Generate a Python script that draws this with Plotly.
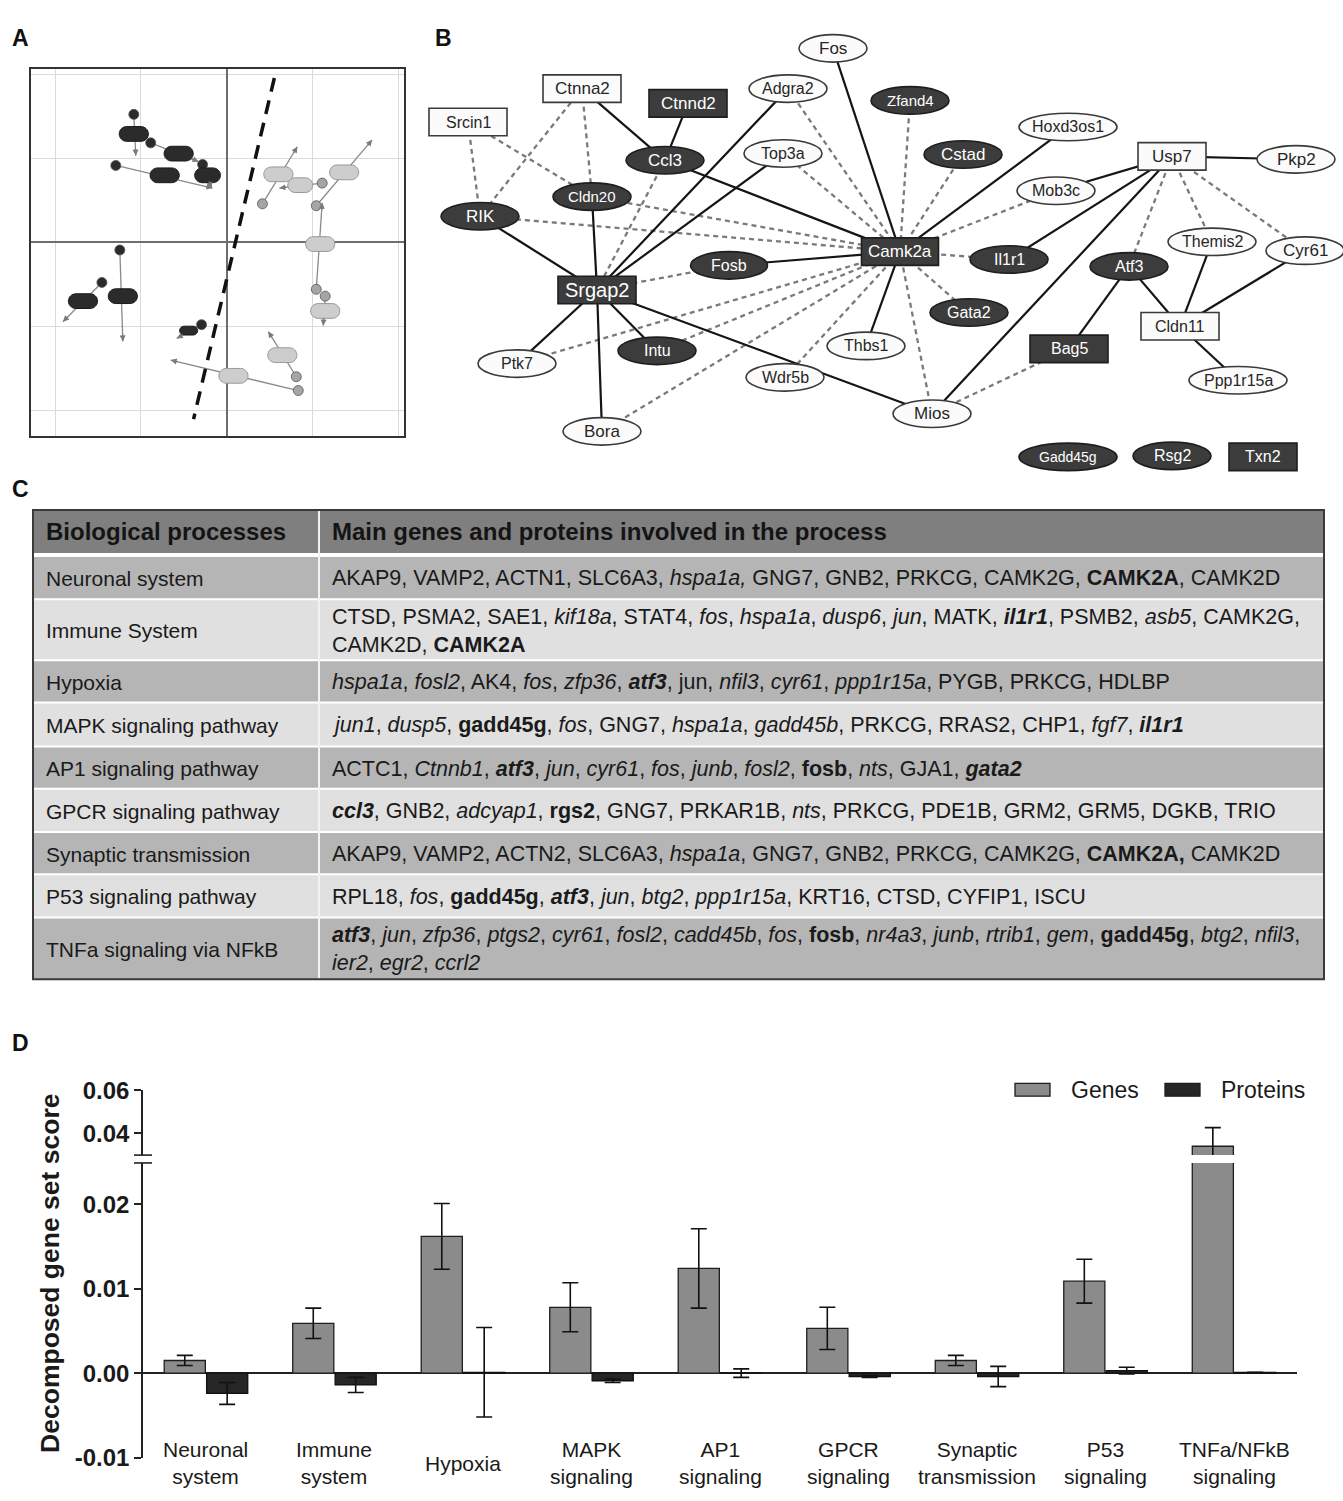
import plotly.graph_objects as go

W, H = 1343, 1501
FONT = "Liberation Sans, Arial, sans-serif"

# ================= Panel D data =================
groups = ["Neuronal", "Immune", "Hypoxia", "MAPK", "AP1", "GPCR", "Synaptic", "P53", "TNFa"]
group_labels = ["Neuronal<br>system", "Immune<br>system", "Hypoxia", "MAPK<br>signaling", "AP1<br>signaling",
                "GPCR<br>signaling", "Synaptic<br>transmission", "P53<br>signaling", "TNFa/NFkB<br>signaling"]
genes = [0.0015, 0.0059, 0.0162, 0.0078, 0.0124, 0.0053, 0.0015, 0.0109, 0.0341]
genes_err = [0.0006, 0.0018, 0.0039, 0.0029, 0.0047, 0.0025, 0.0006, 0.0026, 0.0086]
proteins = [-0.0024, -0.0014, 0.0001, -0.0009, 0.0000, -0.0004, -0.0004, 0.0003, 0.0001]
proteins_err = [0.0013, 0.0009, 0.0053, 0.0002, 0.0005, 0.0001, 0.0012, 0.0004, 0.0000]
lower_ticks = [-0.01, 0.0, 0.01, 0.02]
lower_ticktext = ["-0.01", "0.00", "0.01", "0.02"]
upper_ticks = [0.04, 0.06]
upper_ticktext = ["0.04", "0.06"]

# ================= Panel C data =================
table_header = ["Biological processes", "Main genes and proteins involved in the process"]
processes = ["Neuronal system", "Immune System", "Hypoxia", "MAPK signaling pathway", "AP1 signaling pathway",
             "GPCR signaling pathway", "Synaptic transmission", "P53 signaling pathway", "TNFa signaling via NFkB"]
process_genes = [
    "AKAP9, VAMP2, ACTN1, SLC6A3, <i>hspa1a,</i> GNG7, GNB2, PRKCG, CAMK2G, <b>CAMK2A</b>, CAMK2D",
    "CTSD, PSMA2, SAE1, <i>kif18a</i>, STAT4, <i>fos</i>, <i>hspa1a</i>, <i>dusp6</i>, <i>jun</i>, MATK, "
    "<b><i>il1r1</i></b>, PSMB2, <i>asb5</i>, CAMK2G,<br>CAMK2D, <b>CAMK2A</b>",
    "<i>hspa1a</i>, <i>fosl2</i>, AK4, <i>fos</i>, <i>zfp36</i>, <b><i>atf3</i></b>, jun, <i>nfil3</i>, "
    "<i>cyr61</i>, <i>ppp1r15a</i>, PYGB, PRKCG, HDLBP",
    "<i>jun1</i>, <i>dusp5</i>, <b>gadd45g</b>, <i>fos</i>, GNG7, <i>hspa1a</i>, <i>gadd45b</i>, PRKCG, RRAS2, "
    "CHP1, <i>fgf7</i>, <b><i>il1r1</i></b>",
    "ACTC1, <i>Ctnnb1</i>, <b><i>atf3</i></b>, <i>jun</i>, <i>cyr61</i>, <i>fos</i>, <i>junb</i>, <i>fosl2</i>, "
    "<b>fosb</b>, <i>nts</i>, GJA1, <b><i>gata2</i></b>",
    "<b><i>ccl3</i></b>, GNB2, <i>adcyap1</i>, <b>rgs2</b>, GNG7, PRKAR1B, <i>nts</i>, PRKCG, PDE1B, GRM2, "
    "GRM5, DGKB, TRIO",
    "AKAP9, VAMP2, ACTN2, SLC6A3, <i>hspa1a</i>, GNG7, GNB2, PRKCG, CAMK2G, <b>CAMK2A,</b> CAMK2D",
    "RPL18, <i>fos</i>, <b>gadd45g</b>, <b><i>atf3</i></b>, <i>jun</i>, <i>btg2</i>, <i>ppp1r15a</i>, KRT16, "
    "CTSD, CYFIP1, ISCU",
    "<b><i>atf3</i></b>, <i>jun</i>, <i>zfp36</i>, <i>ptgs2</i>, <i>cyr61</i>, <i>fosl2</i>, <i>cadd45b</i>, "
    "<i>fos</i>, <b>fosb</b>, <i>nr4a3</i>, <i>junb</i>, <i>rtrib1</i>, <i>gem</i>, <b>gadd45g</b>, <i>btg2</i>, "
    "<i>nfil3</i>,<br><i>ier2</i>, <i>egr2</i>, <i>ccrl2</i>",
]

# ================= Panel B data (network) =================
node_names = ["Fos", "Ctnna2", "Ctnnd2", "Adgra2", "Srcin1", "Ccl3", "Top3a", "Cldn20", "RIK", "Fosb",
              "Srgap2", "Intu", "Ptk7", "Wdr5b", "Bora", "Thbs1", "Zfand4", "Hoxd3os1", "Cstad", "Usp7",
              "Pkp2", "Mob3c", "Camk2a", "Il1r1", "Themis2", "Cyr61", "Atf3", "Gata2", "Cldn11", "Bag5",
              "Ppp1r15a", "Mios", "Gadd45g", "Rsg2", "Txn2"]
node_x = [833, 582, 688, 788, 468, 665, 783, 592, 480, 729, 597, 657, 517, 785, 602, 866, 910, 1068, 963, 1172,
          1296, 1056, 900, 1009, 1212, 1305, 1129, 969, 1180, 1069, 1238, 932, 1068, 1172, 1263]
node_y = [35, 76, 91, 76, 110, 149, 142, 186, 206, 256, 281, 343, 356, 370, 425, 338, 88, 115, 143, 145,
          148, 180, 242, 250, 232, 241, 257, 304, 318, 341, 373, 407, 451, 450, 451]
node_w = [68, 78, 78, 78, 78, 78, 78, 78, 78, 77, 78, 78, 78, 78, 78, 78, 78, 98, 78, 68,
          78, 78, 77, 78, 88, 78, 78, 78, 78, 78, 98, 78, 98, 78, 68]
node_shape = ["E", "R", "R", "E", "R", "E", "E", "E", "E", "E", "R", "E", "E", "E", "E", "E", "E", "E", "E", "R",
              "E", "E", "R", "E", "E", "E", "E", "E", "R", "R", "E", "E", "E", "E", "R"]
node_dark = [0, 0, 1, 0, 0, 1, 0, 1, 1, 1, 1, 1, 0, 0, 0, 0, 1, 0, 1, 0,
             0, 0, 1, 1, 0, 0, 1, 1, 0, 1, 0, 0, 1, 1, 1]
node_font = [17, 17, 17, 16, 16, 17, 16, 15, 17, 16, 20, 16, 16, 16, 17, 16, 15, 16, 17, 17,
             17, 16, 17, 16, 16, 17, 16, 16, 16, 16, 16, 17, 14, 16, 16]
solid_edges = [("Ctnna2", "Ccl3"), ("Ctnnd2", "Ccl3"), ("Ccl3", "Camk2a"), ("Adgra2", "Srgap2"),
               ("Top3a", "Srgap2"), ("RIK", "Srgap2"), ("Cldn20", "Srgap2"), ("Srgap2", "Ptk7"),
               ("Srgap2", "Bora"), ("Srgap2", "Intu"), ("Srgap2", "Mios"), ("Fosb", "Camk2a"),
               ("Fos", "Camk2a"), ("Camk2a", "Hoxd3os1"), ("Camk2a", "Thbs1"), ("Usp7", "Mob3c"),
               ("Usp7", "Il1r1"), ("Usp7", "Mios"), ("Usp7", "Pkp2"), ("Atf3", "Bag5"), ("Atf3", "Cldn11"),
               ("Themis2", "Cldn11"), ("Cyr61", "Cldn11"), ("Cldn11", "Ppp1r15a")]
dashed_edges = [("Srcin1", "RIK"), ("Srcin1", "Cldn20"), ("Ctnna2", "RIK"), ("Ctnna2", "Cldn20"),
                ("Ccl3", "Srgap2"), ("RIK", "Camk2a"), ("Cldn20", "Camk2a"), ("Adgra2", "Camk2a"),
                ("Top3a", "Camk2a"), ("Srgap2", "Fosb"), ("Ptk7", "Camk2a"), ("Intu", "Camk2a"),
                ("Wdr5b", "Camk2a"), ("Bora", "Camk2a"), ("Zfand4", "Camk2a"), ("Cstad", "Camk2a"),
                ("Mob3c", "Camk2a"), ("Il1r1", "Camk2a"), ("Gata2", "Camk2a"), ("Mios", "Camk2a"),
                ("Mios", "Bag5"), ("Usp7", "Atf3"), ("Usp7", "Themis2"), ("Usp7", "Cyr61")]

# ================= Panel A data (biplot schematic) =================
dark_pill_x = [-1.081, -0.558, -0.721, -0.221, -1.674, -1.209, -0.442]
dark_pill_y = [1.287, 1.053, 0.795, 0.795, -0.702, -0.643, -1.053]
dark_pill_w = [0.34, 0.34, 0.34, 0.30, 0.34, 0.34, 0.21]
light_pill_x = [0.605, 0.860, 1.372, 1.093, 1.151, 0.651, 0.081]
light_pill_y = [0.807, 0.678, 0.830, -0.023, -0.819, -1.345, -1.591]
light_pill_w = [0.34, 0.29, 0.34, 0.34, 0.34, 0.34, 0.34]
dark_vec_x0 = [-1.081, -0.884, -0.279, -1.291, -1.244, -1.453, -0.291]
dark_vec_y0 = [1.520, 1.181, 0.924, 0.912, -0.094, -0.480, -0.982]
dark_vec_x1 = [-1.058, -0.326, -0.174, -0.163, -1.209, -1.907, -0.581]
dark_vec_y1 = [1.029, 0.959, 0.643, 0.643, -1.181, -0.947, -1.146]
light_vec_x0 = [0.419, 1.116, 1.047, 1.047, 1.151, 0.814, 0.837]
light_vec_y0 = [0.456, 0.702, 0.433, -0.561, -0.643, -1.602, -1.766]
light_vec_x1 = [0.826, 0.616, 1.698, 1.116, 1.128, 0.488, -0.651]
light_vec_y1 = [1.135, 0.643, 1.216, 0.468, -0.994, -1.064, -1.404]
divider_x = [0.558, -0.384]
divider_y = [1.953, -2.105]

# ---------------- helpers ----------------
def X(px):
    return px / W


def Y(py):
    return 1 - py / H


def pill_path(cx, cy, w, h_px=15):
    ry = (h_px / 2) / 85.5
    rx = (h_px / 2) / 86.0
    k = 0.5523
    xl, xr = cx - w / 2 + rx, cx + w / 2 - rx
    return (f"M {xl},{cy + ry} L {xr},{cy + ry} "
            f"C {xr + k * rx},{cy + ry} {xr + rx},{cy + k * ry} {xr + rx},{cy} "
            f"C {xr + rx},{cy - k * ry} {xr + k * rx},{cy - ry} {xr},{cy - ry} "
            f"L {xl},{cy - ry} "
            f"C {xl - k * rx},{cy - ry} {xl - rx},{cy - k * ry} {xl - rx},{cy} "
            f"C {xl - rx},{cy + k * ry} {xl - k * rx},{cy + ry} {xl},{cy + ry} Z")


fig = go.Figure()
shapes = []
annotations = []

# ================= Panel A =================
for x0s, y0s, x1s, y1s, dcol in [(dark_vec_x0, dark_vec_y0, dark_vec_x1, dark_vec_y1, "#2b2b2b"),
                                 (light_vec_x0, light_vec_y0, light_vec_x1, light_vec_y1, "#a5a5a5")]:
    lx, ly = [], []
    for a, b, c, d in zip(x0s, y0s, x1s, y1s):
        lx += [a, c, None]
        ly += [b, d, None]
        dxp, dyp = (c - a) * 86, -(d - b) * 85.5
        n = (dxp ** 2 + dyp ** 2) ** 0.5
        annotations.append(dict(x=c, y=d, xref="x", yref="y", ax=-dxp / n * 9, ay=-dyp / n * 9,
                                axref="pixel", ayref="pixel", showarrow=True, arrowhead=2, arrowsize=1,
                                arrowwidth=1.2, arrowcolor="#7a7a7a", text="", standoff=0))
    fig.add_trace(go.Scatter(x=lx, y=ly, mode="lines", line=dict(color="#8a8a8a", width=1.3),
                             xaxis="x", yaxis="y", showlegend=False, hoverinfo="skip"))
    fig.add_trace(go.Scatter(x=x0s, y=y0s, mode="markers",
                             marker=dict(size=10, color=dcol, line=dict(color="#555", width=0.8)),
                             xaxis="x", yaxis="y", showlegend=False, hoverinfo="skip"))

fig.add_trace(go.Scatter(x=divider_x, y=divider_y, mode="lines",
                         line=dict(color="#111", width=3.5, dash="14px,9px"),
                         xaxis="x", yaxis="y", showlegend=False, hoverinfo="skip"))

for cx, cy, w in zip(dark_pill_x, dark_pill_y, dark_pill_w):
    hpx = 15 if w > 0.25 else 9
    shapes.append(dict(type="path", path=pill_path(cx, cy, w, hpx), xref="x", yref="y", layer="above",
                       fillcolor="#2b2b2b", line=dict(color="#1a1a1a", width=1)))
for cx, cy, w in zip(light_pill_x, light_pill_y, light_pill_w):
    shapes.append(dict(type="path", path=pill_path(cx, cy, w), xref="x", yref="y", layer="above",
                       fillcolor="#cdcdcd", line=dict(color="#999", width=1)))

# ================= Panel B =================
pos = {n: (x, y) for n, x, y in zip(node_names, node_x, node_y)}
for edges, style in [(dashed_edges, dict(color="#7a7a7a", width=2.3, dash="5px,4px")),
                     (solid_edges, dict(color="#151515", width=2.2))]:
    ex, ey = [], []
    for a, b in edges:
        ex += [pos[a][0], pos[b][0], None]
        ey += [pos[a][1], pos[b][1], None]
    fig.add_trace(go.Scatter(x=ex, y=ey, mode="lines", line=style, xaxis="x2", yaxis="y2",
                             showlegend=False, hoverinfo="skip"))

for n, x, y, w, s, d, fs in zip(node_names, node_x, node_y, node_w, node_shape, node_dark, node_font):
    h = 28
    shapes.append(dict(type="circle" if s == "E" else "rect", xref="x2", yref="y2", layer="above",
                       x0=x - w / 2, x1=x + w / 2, y0=y - h / 2, y1=y + h / 2,
                       fillcolor="#3c3c3c" if d else "#fbfbfb",
                       line=dict(color="#1e1e1e" if d else "#3a3a3a", width=1.6)))
    annotations.append(dict(x=x, y=y, xref="x2", yref="y2", text=n, showarrow=False,
                            font=dict(family=FONT, size=fs, color="#ffffff" if d else "#262626")))

# ================= Panel C =================
row_bounds = [551, 596, 658, 701, 746, 789, 833, 876, 920, 983]
tx0, tx1, ty0 = 33, 1324, 505
colx = 319
shapes.append(dict(type="rect", xref="x2", yref="y2", x0=tx0, x1=tx1, y0=ty0, y1=549,
                   fillcolor="#7f7f7f", line=dict(width=0), layer="below"))
for i in range(len(processes)):
    shapes.append(dict(type="rect", xref="x2", yref="y2", x0=tx0, x1=tx1, y0=row_bounds[i],
                       y1=row_bounds[i + 1], fillcolor="#b5b5b5" if i % 2 == 0 else "#e0e0e0",
                       line=dict(width=0), layer="below"))
for i, b in enumerate(row_bounds[:-1]):
    shapes.append(dict(type="line", xref="x2", yref="y2", x0=tx0, x1=tx1, y0=b, y1=b,
                       line=dict(color="#ffffff", width=4 if i == 0 else 2), layer="below"))
shapes.append(dict(type="line", xref="x2", yref="y2", x0=colx, x1=colx, y0=ty0, y1=983,
                   line=dict(color="#f2f2f2", width=2), layer="below"))
shapes.append(dict(type="rect", xref="x2", yref="y2", x0=tx0, x1=tx1, y0=ty0, y1=983,
                   fillcolor="rgba(0,0,0,0)", line=dict(color="#3a3a3a", width=2), layer="above"))
annotations.append(dict(x=44, y=527, xref="x2", yref="y2", text="<b>" + table_header[0] + "</b>",
                        showarrow=False, xanchor="left", yanchor="middle",
                        font=dict(family=FONT, size=24, color="#141414")))
annotations.append(dict(x=330, y=527, xref="x2", yref="y2", text="<b>" + table_header[1] + "</b>",
                        showarrow=False, xanchor="left", yanchor="middle",
                        font=dict(family=FONT, size=24, color="#141414")))
for i, (p, g) in enumerate(zip(processes, process_genes)):
    cy = (row_bounds[i] + row_bounds[i + 1]) / 2 + 1
    annotations.append(dict(x=44, y=cy, xref="x2", yref="y2", text=p, showarrow=False, xanchor="left",
                            yanchor="middle", font=dict(family=FONT, size=21, color="#1a1a1a")))
    annotations.append(dict(x=330, y=cy, xref="x2", yref="y2", text=g, showarrow=False, xanchor="left",
                            yanchor="middle", align="left",
                            font=dict(family=FONT, size=21.5, color="#1a1a1a")))

# ================= Panel D =================
gene_color, prot_color = "#8b8b8b", "#262626"
for yax in ["y3", "y4"]:
    fig.add_trace(go.Bar(x=groups, y=genes, width=0.32, offset=-0.325, name="Genes",
                         marker=dict(color=gene_color, line=dict(color="#1e1e1e", width=1.3)),
                         error_y=dict(type="data", array=genes_err, visible=True, color="#111",
                                      thickness=1.6, width=8),
                         xaxis="x3", yaxis=yax, showlegend=False))
    fig.add_trace(go.Bar(x=groups, y=proteins, width=0.32, offset=0.005, name="Proteins",
                         marker=dict(color=prot_color, line=dict(color="#111", width=1.3)),
                         error_y=dict(type="data", array=proteins_err, visible=True, color="#111",
                                      thickness=1.6, width=8),
                         xaxis="x3", yaxis=yax, showlegend=False))

for g, lab in zip(groups, group_labels):
    annotations.append(dict(x=g, y=Y(1476), xref="x3", yref="paper", text=lab, showarrow=False,
                            yanchor="middle", font=dict(family=FONT, size=21, color="#1a1a1a")))
annotations.append(dict(x=X(50), y=Y(1283), xref="paper", yref="paper", text="<b>Decomposed gene set score</b>",
                        textangle=-90, showarrow=False, xanchor="center", yanchor="middle",
                        font=dict(family=FONT, size=26.5, color="#1a1a1a")))
# legend
for lx, col, txt in [(1015, gene_color, "Genes"), (1165, prot_color, "Proteins")]:
    shapes.append(dict(type="rect", xref="x2", yref="y2", x0=lx, x1=lx + 35, y0=1089, y1=1102,
                       fillcolor=col, line=dict(color="#1e1e1e", width=1.3)))
    annotations.append(dict(x=lx + 54, y=1096, xref="x2", yref="y2", text=txt, showarrow=False,
                            xanchor="left", yanchor="middle", font=dict(family=FONT, size=23, color="#1a1a1a")))
# axis break marks
for by in [1162, 1170]:
    shapes.append(dict(type="line", xref="x2", yref="y2", x0=134, x1=152, y0=by, y1=by,
                       line=dict(color="#222", width=1.6)))

# panel letters
for t, px, py in [("A", 20, 24), ("B", 443, 24), ("C", 20, 484), ("D", 20, 1048)]:
    annotations.append(dict(x=px, y=py, xref="x2", yref="y2", text="<b>" + t + "</b>", showarrow=False,
                            font=dict(family=FONT, size=23, color="#111")))

biplot_axis = dict(showgrid=True, gridcolor="#dadada", gridwidth=1, dtick=1, tick0=0, zeroline=True,
                   zerolinecolor="#6e6e6e", zerolinewidth=1.6, showline=True, mirror=True,
                   linecolor="#333", linewidth=2, showticklabels=False, ticks="")
dy_axis = dict(showline=True, linecolor="#222", linewidth=1.6, ticks="outside", ticklen=7, tickwidth=1.5,
               tickcolor="#222", showgrid=False, anchor="x3",
               tickfont=dict(family=FONT, size=24, color="#1a1a1a", weight="bold"))

fig.update_layout(
    width=W, height=H, margin=dict(l=0, r=0, t=0, b=0), autosize=False,
    paper_bgcolor="white", plot_bgcolor="rgba(0,0,0,0)",
    showlegend=False, barmode="overlay",
    xaxis=dict(domain=[X(31), X(404)], range=[-2.28, 2.07], anchor="y", **biplot_axis),
    yaxis=dict(domain=[Y(430), Y(56)], range=[-2.31, 2.06], anchor="x", **biplot_axis),
    xaxis2=dict(domain=[0, 1], range=[0, W], visible=False, anchor="y2"),
    yaxis2=dict(domain=[0, 1], range=[H, 0], visible=False, anchor="x2"),
    xaxis3=dict(domain=[X(143), X(1297)], range=[-0.49, 8.49], showticklabels=False, showline=False,
                showgrid=False, zeroline=False, ticks="", anchor="y3"),
    yaxis3=dict(domain=[Y(1470), Y(1170)], range=[-0.01, 0.0249], tickvals=lower_ticks, ticktext=lower_ticktext,
                zeroline=True, zerolinecolor="#222", zerolinewidth=1.6, **dy_axis),
    yaxis4=dict(domain=[Y(1162), Y(1096)], range=[0.03, 0.06], tickvals=upper_ticks, ticktext=upper_ticktext,
                zeroline=False, **dy_axis),
    shapes=shapes, annotations=annotations,
)

page_js = ("var gd=document.getElementById('{plot_id}');"
           "gd.style.position='fixed';gd.style.top='0px';gd.style.left='0px';"
           "document.body.style.margin='0px';document.body.style.padding='0px';"
           "document.documentElement.style.overflow='hidden';document.body.style.overflow='hidden';")
fig.write_html("out.html", config={"displayModeBar": False}, post_script=page_js)
